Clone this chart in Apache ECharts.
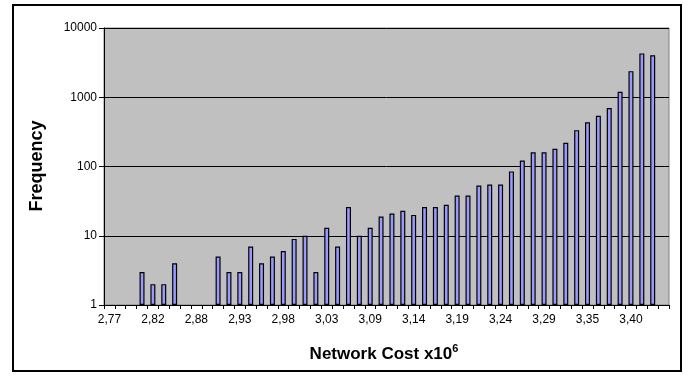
<!DOCTYPE html>
<html><head><meta charset="utf-8">
<script src="https://cdn.jsdelivr.net/npm/echarts@6/dist/echarts.min.js"></script>
<style>html,body{margin:0;padding:0;background:#fff}#c{width:690px;height:376px}</style>
</head><body><div id="c"></div>
<script>
var categories = ['2,77','2,78','2,80','2,81','2,82','2,84','2,85','2,86','2,88','2,89','2,90','2,92','2,93','2,94','2,96','2,97','2,98','2,99','3,01','3,02','3,03','3,05','3,06','3,07','3,09','3,10','3,11','3,13','3,14','3,15','3,17','3,18','3,19','3,20','3,22','3,23','3,24','3,26','3,27','3,28','3,29','3,31','3,32','3,34','3,35','3,36','3,38','3,39','3,40','3,41','3,43','3,44'];
var frequency = [null,null,null,3,2,2,4,null,null,null,5,3,3,7,4,5,6,9,10,3,13,7,26,10,13,19,21,23,20,26,26,28,38,38,53,55,55,85,122,160,160,180,220,335,435,540,700,1200,2380,4300,4050,null];
var yTicks = [1,10,100,1000,10000];
var FONT = 'Liberation Sans, Arial, sans-serif';
var chart = echarts.init(document.getElementById('c'), null, {renderer:'canvas'});
chart.setOption({
  animation:false,
  backgroundColor:'#fff',
  grid:{left:104,right:21,top:28,bottom:71,show:true,backgroundColor:'#C0C0C0',borderColor:'#808080',borderWidth:1},
  xAxis:{
    type:'category',data:categories,boundaryGap:true,
    axisLine:{lineStyle:{color:'#000',width:1}},
    axisTick:{show:true,interval:0,length:4,lineStyle:{color:'#000'}},
    axisLabel:{interval:3,color:'#000',fontFamily:FONT,fontSize:12,margin:9},
    splitLine:{show:false}
  },
  yAxis:{
    type:'log',logBase:10,min:yTicks[0],max:yTicks[yTicks.length-1],
    axisLine:{show:true,lineStyle:{color:'#000',width:1}},
    axisTick:{show:true,length:5,lineStyle:{color:'#000'}},
    axisLabel:{color:'#000',fontFamily:FONT,fontSize:12,margin:7,formatter:function(v){return String(Math.round(v));}},
    splitLine:{show:true,lineStyle:{color:'#000',width:1}},
    minorTick:{show:false}
  },
  series:[{
    type:'bar',data:frequency,barWidth:5,
    itemStyle:{color:'#9999FF',borderColor:'#000',borderWidth:1.2}
  }],
  graphic:[
    {type:'rect',shape:{x:13,y:5,width:668,height:366},style:{fill:'none',stroke:'#000',lineWidth:2},z:-1},
    {type:'text',x:37,y:166,rotation:Math.PI/2,style:{text:'Frequency',font:'bold 18px '+FONT,fill:'#000',align:'center',verticalAlign:'middle'}},
    {type:'text',x:384,y:354,style:{text:'{a|Network Cost x10}{s|6}',align:'center',verticalAlign:'middle',
      rich:{a:{font:'bold 17px '+FONT,fill:'#000'},s:{font:'bold 11px '+FONT,fill:'#000',padding:[0,0,11,0]}}}}
  ]
});
</script></body></html>
